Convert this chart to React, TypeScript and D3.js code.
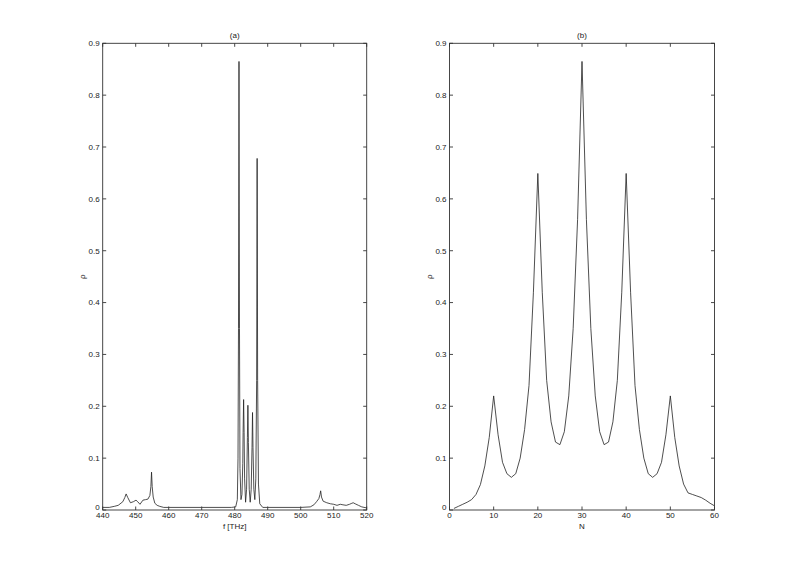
import React from "react";
import * as d3 from "d3";

// (a) reflectivity vs frequency
const freqTHz = [
  440, 442, 443.5, 444.7, 446.1, 446.7, 447.1, 447.6, 448.4, 449.3, 450.1, 450.6, 451.3, 452.2, 453.0,
  453.7, 454.3, 454.6, 454.8, 455.0, 455.3, 455.8, 456.5, 457.3, 458.5, 460, 470, 479, 480.3, 480.8,
  481.0, 481.15, 481.3, 481.45, 481.6, 481.9, 482.2, 482.45, 482.55, 482.7, 482.85, 483.0, 483.3, 483.6,
  483.85, 484.0, 484.15, 484.4, 484.7, 485.0, 485.25, 485.4, 485.55, 485.8, 486.1, 486.4, 486.65, 486.8,
  486.95, 487.2, 487.6, 488.5, 490, 500, 502.9, 504.0, 504.8, 505.5, 505.85, 506.05, 506.3, 506.8, 507.9,
  509.0, 510.0, 511.0, 512.0, 512.8, 513.8, 514.8, 515.5, 515.9, 516.5, 517.5, 518.5, 520,
];
const rhoFreq = [
  0.005, 0.005, 0.007, 0.009, 0.016, 0.024, 0.031, 0.024, 0.014, 0.016, 0.019, 0.016, 0.011, 0.019, 0.02,
  0.021, 0.028, 0.045, 0.073, 0.045, 0.025, 0.013, 0.009, 0.007, 0.005, 0.005, 0.005, 0.005, 0.006, 0.02,
  0.1, 0.35, 0.865, 0.35, 0.08, 0.02, 0.03, 0.09, 0.15, 0.213, 0.15, 0.06, 0.015, 0.04,
  0.14, 0.202, 0.13, 0.04, 0.015, 0.04, 0.12, 0.188, 0.12, 0.04, 0.02, 0.06, 0.25, 0.678,
  0.25, 0.05, 0.012, 0.005, 0.005, 0.005, 0.006, 0.01, 0.016, 0.022, 0.03, 0.037, 0.025, 0.017, 0.014,
  0.012, 0.011, 0.009, 0.011, 0.01, 0.009, 0.011, 0.013, 0.014, 0.012, 0.009, 0.006, 0.004,
];

// (b) reflectivity vs N
const nLayers = [
  1, 2, 3, 4, 5, 6, 7, 8, 9, 10, 11, 12, 13, 14, 15, 16, 17, 18, 19, 20,
  21, 22, 23, 24, 25, 26, 27, 28, 29, 30, 31, 32, 33, 34, 35, 36, 37, 38, 39, 40,
  41, 42, 43, 44, 45, 46, 47, 48, 49, 50, 51, 52, 53, 54, 55, 56, 57, 58, 59, 60,
];
const rhoN = [
  0.003, 0.007, 0.011, 0.015, 0.02, 0.03, 0.049, 0.085, 0.14, 0.22,
  0.145, 0.092, 0.07, 0.063, 0.07, 0.1, 0.155, 0.24, 0.42, 0.649,
  0.42, 0.25, 0.17, 0.131, 0.126, 0.151, 0.22, 0.35, 0.56, 0.865,
  0.56, 0.35, 0.22, 0.151, 0.126, 0.131, 0.17, 0.25, 0.42, 0.649,
  0.42, 0.24, 0.155, 0.1, 0.07, 0.063, 0.07, 0.092, 0.145, 0.22,
  0.14, 0.085, 0.05, 0.033, 0.03, 0.027, 0.024, 0.019, 0.013, 0.008,
];

const xTicksA = [440, 450, 460, 470, 480, 490, 500, 510, 520];
const xTicksB = [0, 10, 20, 30, 40, 50, 60];
const yTicks = [0, 0.1, 0.2, 0.3, 0.4, 0.5, 0.6, 0.7, 0.8, 0.9];

const FONT = "'Liberation Sans', Arial, Helvetica, sans-serif";
const TOP = 43.3;
const BOTTOM = 510;
const TICK = 3.5;
const AXIS = "#333";

type PanelProps = {
  left: number;
  right: number;
  domain: [number, number];
  xTicks: number[];
  xs: number[];
  ys: number[];
  title: string;
  xLabel: string;
};

function Panel({ left, right, domain, xTicks, xs, ys, title, xLabel }: PanelProps) {
  const x = d3.scaleLinear().domain(domain).range([left, right]);
  const y = d3.scaleLinear().domain([0, 0.9]).range([BOTTOM, TOP]);
  const line = d3
    .line<number>()
    .x((_d, i) => x(xs[i]))
    .y((d) => y(d));
  const fmt = (v: number) => String(+v.toFixed(1));

  return (
    <g>
      <path d={line(ys) || ""} fill="none" stroke="#222" strokeWidth={0.8} />
      <rect x={left} y={TOP} width={right - left} height={BOTTOM - TOP} fill="none" stroke={AXIS} strokeWidth={0.9} />
      {xTicks.map((t) => (
        <g key={"x" + t}>
          <line x1={x(t)} x2={x(t)} y1={BOTTOM} y2={BOTTOM - TICK} stroke={AXIS} strokeWidth={0.9} />
          <line x1={x(t)} x2={x(t)} y1={TOP} y2={TOP + TICK} stroke={AXIS} strokeWidth={0.9} />
          <text x={x(t)} y={518} textAnchor="middle">{t}</text>
        </g>
      ))}
      {yTicks.map((t) => (
        <g key={"y" + t}>
          <line x1={left} x2={left + TICK} y1={y(t)} y2={y(t)} stroke={AXIS} strokeWidth={0.9} />
          <line x1={right} x2={right - TICK} y1={y(t)} y2={y(t)} stroke={AXIS} strokeWidth={0.9} />
          <text x={left - 3} y={t === 0 ? y(t) - 2.5 : y(t)} dy="0.35em" textAnchor="end">{fmt(t)}</text>
        </g>
      ))}
      <text x={(left + right) / 2} y={37.5} textAnchor="middle">{title}</text>
      <text x={(left + right) / 2} y={528.5} textAnchor="middle">{xLabel}</text>
      <text transform={`translate(${left - 18},${(TOP + BOTTOM) / 2}) rotate(-90)`} textAnchor="middle">ρ</text>
    </g>
  );
}

export default function App() {
  return (
    <svg
      width={789}
      height={574}
      style={{ position: "absolute", left: 0, top: 0, background: "#fff" }}
      fontFamily={FONT}
      fontSize={8}
      fill="#222"
    >
      <Panel left={102.7} right={366.7} domain={[440, 520]} xTicks={xTicksA} xs={freqTHz} ys={rhoFreq} title="(a)" xLabel="f [THz]" />
      <Panel left={449.5} right={714.5} domain={[0, 60]} xTicks={xTicksB} xs={nLayers} ys={rhoN} title="(b)" xLabel="N" />
    </svg>
  );
}
